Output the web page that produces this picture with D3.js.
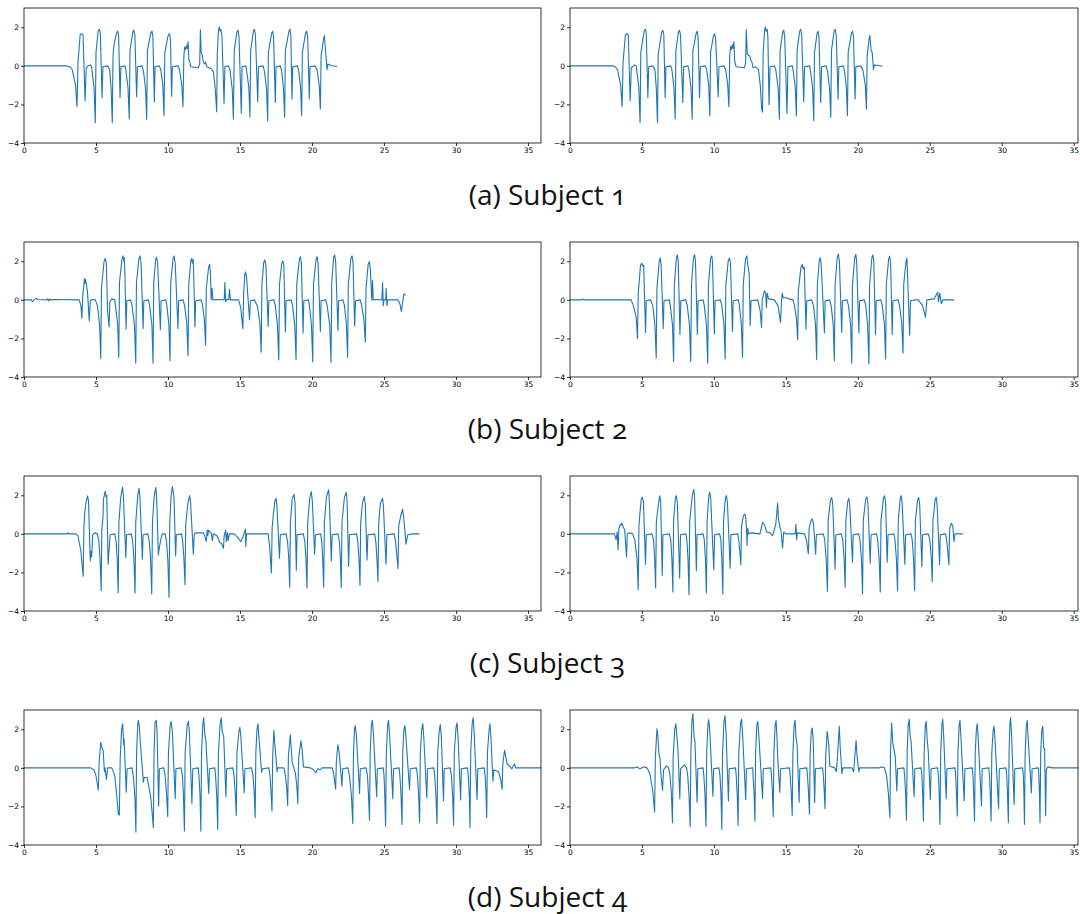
<!DOCTYPE html>
<html><head><meta charset="utf-8">
<script src="https://cdn.jsdelivr.net/npm/d3@7"></script>
<style>body{margin:0;background:#fff}</style></head>
<body><svg id="c" width="1080" height="914"></svg>
<script>
const xTicks = [0, 5, 10, 15, 20, 25, 30, 35];
const yTicks = [2, 0, -2, -4];
const captions = ["(a) Subject 1", "(b) Subject 2", "(c) Subject 3", "(d) Subject 4"];

const s1Left = [[0,0],[2.9,0],[3.2,-0.05],
[3.35,-0.2],[3.58,-1.0],[3.68,-2.12],[3.75,0.2],[3.9,1.6],[3.98,1.67],[4.1,1.6],[4.24,-1.81],[4.32,-0.1],[4.45,0.0],[4.6,0.05],
[4.68,0.0],[4.86,-1.1],[4.95,-2.95],[5.0,0.7],[5.15,1.8],[5.23,1.9],[5.3,1.7],[5.42,-1.65],[5.48,-0.05],[5.8,0.0],
[5.95,-0.2],[6.05,-1.2],[6.13,-2.95],[6.18,0.5],[6.25,1.1],[6.42,1.7],[6.5,1.8],[6.57,1.6],[6.67,-1.65],[6.73,-0.05],[7.0,0.0],
[7.05,-0.1],[7.22,-1.1],[7.31,-2.76],[7.36,0.8],[7.55,1.75],[7.62,1.85],[7.7,1.6],[7.82,-1.6],[7.88,-0.05],[8.2,0.0],
[8.3,-0.3],[8.44,-1.2],[8.52,-2.76],[8.57,0.8],[8.8,1.7],[8.89,1.8],[8.95,1.5],[9.05,-1.86],[9.1,-0.05],[9.4,0.0],
[9.5,-0.2],[9.64,-1.0],[9.72,-2.59],[9.78,0.7],[10.0,1.55],[10.1,1.67],[10.17,1.4],[10.25,-1.57],[10.3,-0.05],[10.7,0.0],
[10.8,-0.2],[10.96,-1.0],[11.04,-2.12],[11.1,0.5],[11.16,0.98],[11.22,0.85],[11.28,1.05],[11.33,0.9],[11.39,1.25],[11.45,0.3],[11.5,0.25],[11.58,-0.05],[12.1,-0.1],
[12.2,0.1],[12.25,1.88],[12.3,0.7],[12.38,0.55],[12.45,0.2],[12.55,0.1],[12.6,0.2],[12.7,-0.05],[13.0,-0.15],[13.15,-0.3],
[13.28,-1.2],[13.38,-2.38],[13.42,0.6],[13.5,1.8],[13.56,2.02],[13.62,1.8],[13.66,1.9],[13.75,1.5],[13.89,-1.95],[13.95,-0.05],[14.2,0.0],
[14.3,-0.2],[14.46,-1.2],[14.54,-2.76],[14.6,0.8],[14.78,1.75],[14.86,1.85],[14.93,1.5],[15.09,-2.47],[15.14,-0.05],[15.4,0.0],
[15.45,-0.2],[15.61,-1.1],[15.69,-2.64],[15.74,0.8],[15.93,1.8],[16.0,1.9],[16.07,1.6],[16.23,-1.86],[16.28,-0.05],[16.6,0.0],
[16.7,-0.3],[16.84,-1.2],[16.92,-2.84],[16.97,0.7],[17.2,1.7],[17.27,1.79],[17.33,1.5],[17.45,-1.9],[17.5,-0.05],[17.8,0.0],
[17.9,-0.3],[18.02,-1.2],[18.1,-2.67],[18.15,0.8],[18.4,1.8],[18.47,1.9],[18.53,1.6],[18.61,-1.72],[18.66,-0.05],[19.0,0.0],
[19.08,-0.3],[19.2,-1.1],[19.28,-2.59],[19.33,0.7],[19.55,1.7],[19.63,1.8],[19.7,1.5],[19.81,-1.72],[19.86,-0.05],[20.2,0.0],
[20.35,-0.2],[20.5,-1.0],[20.58,-2.24],[20.63,0.5],[20.8,1.4],[20.86,1.57],[20.94,0.8],[21.04,-0.2],[21.1,0.1],[21.3,0.02],[21.74,-0.03]];

const s1Right = [[0,0],[2.97,0],[3.15,-0.05],
[3.3,-0.2],[3.52,-1.0],[3.62,-2.12],[3.69,0.2],[3.85,1.6],[3.95,1.67],[4.05,1.6],[4.18,-1.81],[4.26,-0.1],[4.5,0.05],[4.6,0.0],
[4.78,-1.1],[4.87,-2.95],[4.92,0.7],[5.15,1.8],[5.24,1.9],[5.3,1.7],[5.41,-1.65],[5.47,-0.05],[5.75,0.0],
[5.9,-0.2],[6.0,-1.2],[6.08,-2.95],[6.13,0.6],[6.37,1.75],[6.45,1.85],[6.52,1.6],[6.61,-1.65],[6.67,-0.05],[7.0,0.0],
[7.08,-0.2],[7.22,-1.1],[7.31,-2.76],[7.36,0.8],[7.54,1.75],[7.61,1.85],[7.68,1.6],[7.84,-1.9],[7.9,-0.05],[8.2,0.0],
[8.28,-0.3],[8.41,-1.2],[8.49,-2.76],[8.54,0.8],[8.77,1.7],[8.84,1.8],[8.9,1.5],[9.0,-1.65],[9.06,-0.05],[9.4,0.0],
[9.5,-0.2],[9.64,-1.0],[9.72,-2.59],[9.77,0.7],[9.97,1.55],[10.05,1.67],[10.12,1.4],[10.3,-1.6],[10.35,-0.05],[10.7,0.0],
[10.82,-0.2],[10.96,-1.0],[11.04,-2.12],[11.1,0.5],[11.16,1.0],[11.22,0.85],[11.28,1.1],[11.33,0.9],[11.39,1.25],[11.45,0.2],[11.55,-0.05],[12.1,-0.1],
[12.2,0.1],[12.25,1.88],[12.32,0.6],[12.5,0.5],[12.55,0.3],[12.64,0.2],[12.72,-0.1],[12.9,-0.05],[13.1,-0.2],
[13.22,-1.0],[13.32,-2.24],[13.38,-2.4],[13.42,0.6],[13.52,1.8],[13.57,2.02],[13.63,1.8],[13.7,1.9],[13.75,1.5],[13.83,-2.0],[13.9,-0.05],[14.2,0.0],
[14.3,-0.2],[14.47,-1.2],[14.55,-2.76],[14.6,0.8],[14.78,1.75],[14.85,1.85],[14.92,1.5],[15.08,-2.47],[15.14,-0.05],[15.45,0.0],
[15.5,-0.2],[15.65,-1.1],[15.73,-2.6],[15.78,0.8],[15.96,1.8],[16.03,1.9],[16.1,1.6],[16.24,-1.86],[16.3,-0.05],[16.65,0.0],
[16.72,-0.3],[16.86,-1.2],[16.94,-2.84],[16.99,0.7],[17.17,1.7],[17.24,1.79],[17.3,1.5],[17.42,-1.9],[17.48,-0.05],[17.8,0.0],
[17.9,-0.3],[18.04,-1.2],[18.12,-2.67],[18.17,0.8],[18.35,1.8],[18.42,1.9],[18.5,1.6],[18.63,-1.72],[18.68,-0.05],[19.0,0.0],
[19.08,-0.3],[19.2,-1.1],[19.28,-2.59],[19.33,0.7],[19.56,1.7],[19.63,1.8],[19.7,1.5],[19.81,-1.72],[19.86,-0.05],[20.2,0.0],
[20.35,-0.2],[20.52,-1.0],[20.6,-2.24],[20.65,0.5],[20.78,1.4],[20.84,1.57],[20.92,0.8],[21.0,0.7],[21.09,-0.2],[21.15,0.05],[21.4,0.02],[21.72,-0.02]];

const s2Left = [[0,0],[0.5,0],[0.6,-0.1],[0.7,0.0],[0.83,0.08],[0.95,0.02],[1.6,0.0],[1.65,0.06],[1.72,-0.05],[1.8,0.05],[1.87,-0.02],[2.0,0.02],[3.83,0.0],
[3.95,-0.3],[4.02,-0.95],[4.08,0.2],[4.2,1.1],[4.23,0.85],[4.28,1.05],[4.33,0.8],[4.41,0.4],[4.53,-1.1],[4.6,-0.05],[4.75,0.02],[4.95,0.0],
[5.1,-0.3],[5.25,-1.3],[5.33,-3.05],[5.38,0.6],[5.56,2.0],[5.64,2.14],[5.72,1.9],[5.8,-0.55],[5.91,-1.41],[5.96,-0.1],[6.1,0.05],[6.3,0.0],
[6.5,-1.2],[6.58,-2.97],[6.63,0.9],[6.8,2.1],[6.88,2.28],[6.93,2.0],[6.96,2.2],[7.0,1.5],[7.09,-1.52],[7.14,-0.05],[7.4,0.0],
[7.5,-0.3],[7.67,-1.3],[7.76,-3.28],[7.81,0.9],[7.98,2.15],[8.06,2.28],[8.13,1.9],[8.27,-1.48],[8.32,-0.05],[8.65,0.0],
[8.72,-0.3],[8.88,-1.3],[8.96,-3.28],[9.01,0.9],[9.14,2.1],[9.21,2.2],[9.28,1.9],[9.47,-1.55],[9.52,-0.05],[9.85,0.0],
[9.92,-0.3],[10.06,-1.3],[10.14,-3.16],[10.19,0.9],[10.35,2.15],[10.42,2.28],[10.5,1.9],[10.69,-1.48],[10.74,-0.05],[11.05,0.0],
[11.15,-0.3],[11.3,-1.2],[11.39,-2.9],[11.44,0.8],[11.58,2.0],[11.64,2.14],[11.7,1.9],[11.74,2.1],[11.78,1.5],[11.87,-1.41],[11.92,-0.05],[12.3,0.0],
[12.4,-0.3],[12.52,-1.0],[12.61,-2.34],[12.66,0.6],[12.82,1.7],[12.89,1.84],[12.94,1.5],[13.0,0.0],[13.06,0.6],[13.12,0.0],[13.5,0.02],[13.9,0.0],[13.95,0.9],[14.0,-0.1],[14.1,0.05],[14.22,0.0],[14.27,0.55],[14.33,0.0],[14.9,0.0],
[15.05,-0.4],[15.2,-1.5],[15.25,0.3],[15.33,1.3],[15.38,1.45],[15.45,1.2],[15.66,-1.03],[15.72,-0.05],[16.0,0.0],
[16.2,-0.3],[16.38,-1.2],[16.47,-2.72],[16.52,0.8],[16.65,1.95],[16.72,2.07],[16.8,1.8],[16.95,-1.38],[17.0,-0.05],[17.35,0.0],
[17.45,-0.3],[17.6,-1.3],[17.69,-3.1],[17.74,0.8],[17.9,1.9],[17.97,2.02],[18.04,1.8],[18.15,-1.67],[18.2,-0.05],[18.55,0.0],
[18.65,-0.3],[18.8,-1.3],[18.89,-3.1],[18.94,0.8],[19.12,2.1],[19.19,2.24],[19.26,1.9],[19.38,-1.72],[19.43,-0.05],[19.75,0.0],
[19.82,-0.3],[19.96,-1.3],[20.05,-3.22],[20.1,0.8],[20.28,2.1],[20.35,2.24],[20.42,1.9],[20.58,-1.64],[20.63,-0.05],[20.95,0.0],
[21.05,-0.3],[21.23,-1.3],[21.32,-3.24],[21.37,0.9],[21.5,2.2],[21.57,2.33],[21.64,2.0],[21.8,-1.6],[21.85,-0.05],[22.15,0.0],
[22.25,-0.3],[22.38,-1.2],[22.47,-2.97],[22.52,0.8],[22.7,2.15],[22.78,2.28],[22.85,1.9],[22.96,-1.35],[23.02,-0.05],[23.35,0.0],
[23.45,-0.3],[23.6,-1.0],[23.7,-2.2],[23.75,0.6],[23.9,1.85],[23.98,1.98],[24.05,1.6],[24.15,0.0],[24.2,1.0],[24.25,0.0],[24.5,0.02],[24.85,0.0],[24.9,0.9],[24.95,-0.3],[25.0,0.0],[25.12,0.0],[25.15,0.6],[25.2,-0.3],[25.25,0.0],[25.96,0.0],[26.1,-0.2],[26.2,-0.6],[26.3,-0.1],[26.37,0.3],[26.5,0.25]];

const s2Right = [[0,0],[0.8,0.0],[0.88,0.05],[0.95,0.0],[4.25,0.0],
[4.4,-0.3],[4.6,-0.9],[4.69,-2.0],[4.74,0.3],[4.9,1.8],[4.99,1.9],[5.05,1.75],[5.12,1.8],[5.25,-1.69],[5.3,-0.05],[5.6,0.0],
[5.75,-0.3],[5.9,-1.3],[5.99,-3.03],[6.04,0.6],[6.2,2.0],[6.27,2.17],[6.33,1.85],[6.48,-1.48],[6.53,-0.05],[6.9,0.0],
[6.97,-0.3],[7.12,-1.3],[7.2,-3.2],[7.25,0.8],[7.4,2.2],[7.46,2.33],[7.52,2.0],[7.64,-1.79],[7.7,-0.05],[8.05,0.0],
[8.15,-0.3],[8.3,-1.3],[8.39,-3.19],[8.44,0.8],[8.58,2.2],[8.66,2.34],[8.72,2.0],[8.85,-1.79],[8.9,-0.05],[9.25,0.0],
[9.33,-0.3],[9.48,-1.3],[9.57,-3.28],[9.62,0.8],[9.77,2.15],[9.85,2.28],[9.9,2.0],[10.03,-1.76],[10.08,-0.05],[10.45,0.0],
[10.55,-0.3],[10.7,-1.3],[10.78,-3.07],[10.83,0.8],[11.0,2.05],[11.08,2.16],[11.15,1.9],[11.29,-1.64],[11.34,-0.05],[11.7,0.0],
[11.77,-0.3],[11.9,-1.2],[11.99,-2.97],[12.04,0.8],[12.2,2.15],[12.29,2.28],[12.36,1.8],[12.45,1.4],[12.52,-1.33],[12.58,-0.05],[13.05,0.0],
[13.22,-0.6],[13.31,-1.43],[13.36,0.0],[13.48,0.4],[13.54,0.47],[13.6,0.3],[13.65,-0.4],[13.7,0.35],[13.8,0.05],[14.2,0.0],[14.45,-0.3],[14.63,-1.17],[14.7,0.0],[14.75,0.35],[14.82,0.1],[15.0,0.12],[15.2,0.05],[15.5,0.0],
[15.6,-0.3],[15.74,-1.0],[15.82,-2.07],[15.87,0.5],[16.05,1.7],[16.14,1.84],[16.2,1.6],[16.28,1.7],[16.4,-1.52],[16.45,-0.05],[16.8,0.0],
[16.92,-0.3],[17.06,-1.3],[17.14,-3.1],[17.19,0.8],[17.32,2.05],[17.38,2.19],[17.45,1.9],[17.68,-1.72],[17.73,-0.05],[18.05,0.0],
[18.15,-0.3],[18.29,-1.3],[18.37,-3.16],[18.42,0.8],[18.58,2.25],[18.65,2.38],[18.72,2.0],[18.88,-1.69],[18.93,-0.05],[19.25,0.0],
[19.35,-0.3],[19.5,-1.3],[19.58,-3.28],[19.63,0.8],[19.79,2.2],[19.86,2.36],[19.92,2.0],[20.07,-1.72],[20.12,-0.05],[20.45,0.0],
[20.55,-0.3],[20.68,-1.3],[20.77,-3.31],[20.82,0.8],[20.98,2.2],[21.05,2.33],[21.11,2.0],[21.23,-1.81],[21.28,-0.05],[21.6,0.0],
[21.7,-0.3],[21.85,-1.3],[21.93,-3.07],[21.98,0.8],[22.14,2.1],[22.21,2.26],[22.28,1.9],[22.39,-1.79],[22.44,-0.05],[22.8,0.0],
[22.9,-0.3],[23.05,-1.2],[23.14,-2.76],[23.19,0.8],[23.35,2.0],[23.41,2.17],[23.47,1.0],[23.6,-1.83],[23.66,-0.05],[24.0,0.0],
[24.2,0.0],[24.5,-0.3],[24.7,-0.9],[24.8,0.0],[25.3,0.05],[25.55,0.4],[25.6,-0.1],[25.7,0.35],[25.8,-0.2],[25.9,0.0],[26.7,0.0]];

const s3Left = [[0,0],[3.0,0.0],[3.05,0.06],[3.1,0.0],[3.6,0.0],
[3.75,-0.1],[3.95,-0.9],[4.11,-2.2],[4.16,0.4],[4.22,1.1],[4.3,1.6],[4.41,1.97],[4.48,1.7],[4.6,-1.4],[4.65,-0.9],[4.7,-1.2],[4.77,-0.05],[4.9,0.05],[5.1,0.0],
[5.2,-0.4],[5.28,-1.3],[5.36,-2.95],[5.4,0.2],[5.48,0.8],[5.52,1.8],[5.64,2.22],[5.7,1.9],[5.75,2.0],[5.84,-1.57],[5.9,-0.9],[5.98,-0.05],[6.3,0.0],
[6.4,-0.4],[6.47,-1.3],[6.54,-3.07],[6.59,0.6],[6.72,1.9],[6.84,2.41],[6.9,2.0],[7.07,-1.22],[7.12,-0.05],[7.45,0.0],
[7.55,-0.4],[7.63,-1.3],[7.71,-3.07],[7.76,0.6],[7.9,2.0],[7.99,2.36],[8.05,1.9],[8.22,-1.31],[8.27,-0.05],[8.6,0.0],
[8.7,-0.4],[8.79,-1.3],[8.87,-3.12],[8.92,0.6],[9.05,2.0],[9.15,2.41],[9.21,1.9],[9.33,-1.09],[9.4,-0.7],[9.5,-0.3],[9.6,0.0],[9.8,0.0],
[9.9,-0.4],[9.99,-1.4],[10.07,-3.29],[10.12,0.6],[10.22,2.0],[10.3,2.45],[10.36,2.2],[10.42,1.8],[10.53,-1.14],[10.58,-0.05],[10.95,0.0],
[11.02,-0.4],[11.1,-1.2],[11.18,-2.64],[11.23,0.5],[11.38,1.6],[11.5,1.98],[11.56,1.7],[11.76,-1.05],[11.82,-0.05],[11.9,0.05],[12.45,0.05],
[12.55,-0.1],[12.66,-0.4],[12.72,0.2],[12.76,-0.1],[12.82,0.2],[12.92,0.1],[13.0,0.05],[13.08,-0.35],[13.15,0.0],[13.4,-0.1],[13.6,-0.45],[13.72,-0.5],[13.85,-0.75],[13.9,-0.1],[14.0,0.2],[14.05,-0.4],[14.12,0.05],[14.18,-0.35],[14.25,0.0],[14.6,0.0],[14.85,-0.2],[15.06,-0.4],[15.2,-0.15],[15.38,0.25],[15.4,-0.65],[15.45,0.0],[16.95,0.0],
[17.05,-0.6],[17.18,-2.03],[17.23,0.3],[17.3,0.9],[17.42,1.7],[17.5,1.84],[17.56,1.5],[17.74,-1.26],[17.8,-0.05],[18.2,0.0],
[18.3,-0.4],[18.38,-1.2],[18.45,-2.76],[18.5,0.6],[18.62,1.8],[18.75,2.05],[18.82,1.6],[18.91,-1.9],[18.96,-0.05],[19.4,0.0],
[19.5,-0.4],[19.58,-1.3],[19.65,-2.81],[19.7,0.6],[19.85,1.9],[19.95,2.19],[20.02,1.7],[20.18,-1.05],[20.24,-0.05],[20.6,0.0],
[20.68,-0.4],[20.74,-1.3],[20.81,-2.76],[20.86,0.6],[21.0,1.9],[21.15,2.28],[21.2,1.8],[21.34,-1.4],[21.4,-0.05],[21.8,0.0],
[21.9,-0.4],[21.97,-1.3],[22.03,-2.78],[22.08,0.6],[22.25,1.9],[22.38,2.16],[22.44,1.6],[22.54,-1.69],[22.6,-0.05],[23.1,0.0],
[23.18,-0.4],[23.26,-1.3],[23.33,-2.67],[23.38,0.6],[23.5,1.6],[23.63,1.93],[23.7,1.5],[23.82,-1.36],[23.88,-0.05],[24.35,0.0],
[24.43,-0.4],[24.5,-1.2],[24.58,-2.47],[24.63,0.5],[24.7,1.2],[24.75,1.6],[24.9,1.84],[24.96,1.4],[25.14,-1.57],[25.2,-0.05],[25.7,0.0],
[25.8,-0.4],[25.9,-1.2],[25.97,-1.81],[26.02,0.4],[26.15,0.9],[26.29,1.28],[26.37,0.8],[26.53,-0.53],[26.58,-0.3],[26.65,-0.05],[27.0,0.0],[27.45,0.0]];

const s3Right = [[0,0],[3.09,0.0],[3.2,-0.3],[3.28,0.1],[3.34,-0.84],[3.4,0.3],[3.5,0.5],[3.55,0.45],[3.6,0.55],[3.7,0.35],[3.8,0.2],[3.93,-1.2],[3.98,0.0],[4.1,0.05],[4.35,0.0],
[4.5,-0.3],[4.66,-1.3],[4.74,-2.9],[4.79,0.4],[4.84,0.9],[4.95,1.8],[5.02,1.9],[5.1,1.7],[5.25,-1.57],[5.3,-0.05],[5.7,0.0],
[5.8,-0.3],[5.88,-1.2],[5.95,-2.81],[6.0,0.6],[6.12,1.4],[6.23,1.97],[6.3,1.7],[6.41,-2.16],[6.46,-0.05],[6.9,0.0],
[7.0,-0.3],[7.08,-1.3],[7.15,-3.02],[7.2,0.7],[7.32,1.85],[7.39,1.98],[7.46,1.6],[7.62,-2.29],[7.68,-0.05],[8.05,0.0],
[8.12,-0.3],[8.2,-1.3],[8.27,-3.16],[8.32,0.7],[8.5,2.0],[8.6,2.31],[8.66,1.9],[8.78,-1.91],[8.83,-0.05],[9.25,0.0],
[9.33,-0.3],[9.41,-1.3],[9.48,-3.07],[9.53,0.7],[9.65,2.0],[9.71,2.16],[9.78,1.8],[9.99,-1.86],[10.05,-0.05],[10.4,0.0],
[10.48,-0.3],[10.55,-1.3],[10.62,-3.12],[10.67,0.7],[10.8,1.85],[10.87,1.98],[10.94,1.6],[11.13,-1.78],[11.18,-0.05],[11.65,0.0],
[11.72,-0.3],[11.8,-0.9],[11.87,-1.6],[11.92,0.4],[12.05,0.95],[12.15,1.02],[12.22,0.8],[12.28,0.0],[12.3,-0.6],[12.35,0.3],[12.4,0.0],[12.6,0.05],[13.2,0.0],[13.38,0.6],[13.48,0.5],[13.55,0.4],[13.65,0.1],[13.9,0.05],[14.08,-0.1],[14.3,0.5],[14.43,1.6],[14.48,0.8],[14.6,0.3],[14.65,0.25],[14.77,-0.75],[14.85,0.1],[15.0,0.0],[15.65,0.0],[15.7,0.5],[15.75,-0.3],[15.8,0.05],[16.3,0.0],
[16.45,-0.4],[16.56,-1.03],[16.62,0.3],[16.75,0.7],[16.84,0.78],[16.92,0.5],[17.07,-1.05],[17.12,-0.05],[17.6,0.0],
[17.7,-0.3],[17.8,-1.3],[17.89,-2.98],[17.94,0.7],[18.1,1.75],[18.19,1.88],[18.26,1.5],[18.42,-1.83],[18.47,-0.05],[18.85,0.0],
[18.95,-0.3],[19.04,-1.2],[19.12,-2.78],[19.17,0.7],[19.3,1.7],[19.37,1.84],[19.44,1.5],[19.63,-1.47],[19.68,-0.05],[20.05,0.0],
[20.15,-0.3],[20.25,-1.3],[20.33,-3.12],[20.38,0.7],[20.55,1.8],[20.63,1.93],[20.7,1.6],[20.86,-1.52],[20.92,-0.05],[21.3,0.0],
[21.38,-0.3],[21.48,-1.3],[21.56,-3.02],[21.61,0.7],[21.78,1.85],[21.86,1.97],[21.93,1.6],[22.04,-1.47],[22.1,-0.05],[22.5,0.0],
[22.58,-0.3],[22.68,-1.3],[22.76,-2.95],[22.81,0.7],[22.95,1.85],[23.02,1.98],[23.08,1.6],[23.27,-1.57],[23.32,-0.05],[23.7,0.0],
[23.78,-0.3],[23.87,-1.3],[23.95,-2.95],[24.0,0.7],[24.15,1.75],[24.23,1.88],[24.3,1.5],[24.45,-1.7],[24.5,-0.05],[24.9,0.0],
[25.0,-0.3],[25.1,-1.2],[25.17,-2.5],[25.22,0.7],[25.38,1.8],[25.45,1.9],[25.52,1.4],[25.68,-1.6],[25.73,-0.05],[26.1,0.0],
[26.2,-0.5],[26.33,-1.6],[26.38,0.3],[26.5,0.55],[26.6,0.4],[26.68,-0.4],[26.75,0.0],[27.3,0.0]];

const s4Left = [[0,0],[4.64,0.0],
[4.85,-0.1],[5.0,-0.4],[5.16,-1.16],[5.22,0.3],[5.33,1.33],[5.43,1.0],[5.5,0.9],[5.58,-0.2],[5.62,0.0],[5.73,-0.6],[5.8,0.0],[6.1,0.0],
[6.3,-0.4],[6.45,-1.5],[6.55,-2.41],[6.62,-2.45],[6.68,0.5],[6.78,2.0],[6.85,2.29],[6.92,1.2],[6.95,1.5],[7.1,-1.26],[7.16,-0.05],[7.5,0.0],
[7.6,-0.5],[7.7,-1.5],[7.77,-3.33],[7.82,0.8],[7.9,2.3],[7.94,2.47],[8.0,2.2],[8.05,1.6],[8.29,-0.74],[8.35,-0.5],[8.55,-0.5],[8.8,-1.5],[8.93,-2.64],[8.98,-3.1],[9.03,0.8],[9.1,2.35],[9.18,2.47],[9.24,1.9],[9.35,-1.98],[9.4,-0.05],[9.7,0.0],
[9.8,-0.4],[9.9,-1.4],[9.98,-2.53],[10.03,0.8],[10.15,2.2],[10.22,2.41],[10.3,1.9],[10.5,-1.6],[10.55,-0.05],[10.9,0.0],
[11.0,-0.4],[11.07,-1.4],[11.14,-3.28],[11.19,0.8],[11.33,2.2],[11.41,2.41],[11.48,1.9],[11.66,-1.84],[11.72,-0.05],[12.1,0.0],
[12.15,-0.4],[12.22,-1.4],[12.28,-3.28],[12.33,0.8],[12.42,2.3],[12.48,2.59],[12.55,1.8],[12.63,1.4],[12.83,-1.33],[12.88,-0.05],[13.25,0.0],
[13.3,-0.4],[13.38,-1.4],[13.45,-3.19],[13.5,0.8],[13.62,2.3],[13.7,2.59],[13.76,1.9],[13.87,1.6],[14.02,-1.5],[14.07,-0.05],[14.5,0.0],
[14.58,-0.4],[14.66,-1.2],[14.74,-2.47],[14.79,0.8],[14.92,1.9],[14.99,2.1],[15.06,1.6],[15.29,-1.29],[15.34,-0.05],[15.8,0.0],
[15.9,-0.4],[15.98,-1.2],[16.05,-2.59],[16.1,0.8],[16.18,2.0],[16.25,2.29],[16.32,1.5],[16.5,-0.22],[16.56,-0.05],[17.0,0.0],
[17.08,-0.4],[17.15,-1.2],[17.22,-2.24],[17.27,0.6],[17.35,1.95],[17.42,1.2],[17.5,0.5],[17.57,-0.2],[17.62,0.0],[18.05,0.0],
[18.15,-0.4],[18.24,-1.0],[18.31,-1.95],[18.36,0.6],[18.49,1.72],[18.56,1.0],[18.62,0.3],[18.7,0.1],[18.85,-0.3],[18.95,-1.0],[19.01,-1.84],[19.07,0.5],[19.23,1.4],[19.32,0.9],[19.4,0.05],[19.9,0.0],[20.1,-0.1],[20.27,-0.25],[20.4,-0.05],[20.55,-0.1],[20.7,0.0],[21.4,0.0],
[21.5,-0.3],[21.64,-1.1],[21.69,0.3],[21.79,1.2],[21.87,0.9],[22.08,-0.95],[22.13,-0.05],[22.5,0.0],
[22.6,-0.4],[22.73,-1.4],[22.83,-2.88],[22.88,0.8],[22.95,2.0],[23.0,2.19],[23.08,1.7],[23.3,-1.33],[23.35,-0.05],[23.75,0.0],
[23.85,-0.4],[23.92,-1.4],[23.99,-2.71],[24.04,0.8],[24.12,2.2],[24.19,2.47],[24.26,1.8],[24.49,-1.5],[24.54,-0.05],[24.95,0.0],
[25.0,-0.4],[25.05,-1.4],[25.11,-3.02],[25.16,0.8],[25.25,2.2],[25.31,2.47],[25.38,1.8],[25.61,-1.6],[25.66,-0.05],[26.05,0.0],
[26.1,-0.4],[26.18,-1.4],[26.25,-2.93],[26.3,0.8],[26.38,2.0],[26.45,2.19],[26.52,1.6],[26.77,-1.12],[26.82,-0.05],[27.25,0.0],
[27.32,-0.4],[27.4,-1.4],[27.47,-2.84],[27.52,0.8],[27.62,2.0],[27.69,2.29],[27.76,1.6],[27.97,-1.55],[28.02,-0.05],[28.45,0.0],
[28.52,-0.4],[28.6,-1.4],[28.68,-2.88],[28.73,0.8],[28.84,2.0],[28.91,2.24],[28.98,1.6],[29.13,-1.72],[29.18,-0.05],[29.6,0.0],
[29.68,-0.4],[29.76,-1.4],[29.83,-2.97],[29.88,0.8],[30.0,2.1],[30.07,2.33],[30.14,1.6],[30.32,-1.67],[30.37,-0.05],[30.8,0.0],
[30.85,-0.4],[30.92,-1.4],[30.97,-3.1],[31.02,0.8],[31.12,2.3],[31.19,2.59],[31.26,1.8],[31.46,-1.64],[31.51,-0.05],[31.95,0.0],
[32.02,-0.4],[32.08,-1.3],[32.13,-2.59],[32.18,0.8],[32.3,2.0],[32.36,2.29],[32.43,1.5],[32.56,-0.69],[32.62,-0.1],[32.95,-0.2],[33.1,-0.6],[33.2,-1.12],[33.25,0.2],[33.37,0.91],[33.45,0.6],[33.55,0.2],[33.7,0.1],[33.88,-0.05],[34.05,0.2],[34.15,0.0],[35.9,0.0]];

const s4Right = [[0,0],[4.5,0.0],[4.68,0.05],[4.85,-0.05],[5.0,0.0],[5.12,0.05],[5.35,0.0],
[5.55,-0.3],[5.75,-1.2],[5.88,-2.29],[5.93,0.5],[6.04,2.02],[6.1,1.7],[6.18,0.7],[6.25,0.55],[6.33,-0.45],[6.43,-1.17],[6.5,-0.1],[6.71,0.1],[6.85,0.0],
[6.95,-0.4],[7.05,-1.4],[7.12,-2.84],[7.17,0.6],[7.28,2.0],[7.36,2.29],[7.44,1.5],[7.5,1.0],[7.63,-1.6],[7.68,-0.05],[7.96,0.15],[8.1,0.0],
[8.18,-0.4],[8.27,-1.4],[8.35,-3.05],[8.4,0.8],[8.48,2.5],[8.54,2.81],[8.62,1.6],[8.68,1.4],[8.83,-1.78],[8.88,-0.05],[9.25,0.0],
[9.3,-0.4],[9.38,-1.4],[9.45,-3.05],[9.5,0.8],[9.58,2.2],[9.64,2.5],[9.72,1.8],[9.93,-1.47],[9.98,-0.05],[10.35,0.0],
[10.42,-0.4],[10.49,-1.4],[10.55,-3.19],[10.6,0.8],[10.7,2.4],[10.77,2.71],[10.84,1.9],[11.01,-1.72],[11.06,-0.05],[11.5,0.0],
[11.55,-0.4],[11.62,-1.4],[11.68,-2.98],[11.73,0.8],[11.85,2.3],[11.92,2.53],[11.99,1.8],[12.21,-1.64],[12.26,-0.05],[12.7,0.0],
[12.72,-0.4],[12.79,-1.3],[12.85,-2.76],[12.9,0.8],[12.98,2.2],[13.05,2.41],[13.12,1.7],[13.38,-1.6],[13.43,-0.05],[13.95,0.0],
[14.0,-0.4],[14.06,-1.2],[14.12,-2.53],[14.17,0.8],[14.25,2.2],[14.32,2.45],[14.38,1.6],[14.44,0.4],[14.58,-1.26],[14.63,-0.05],[15.25,0.0],
[15.3,-0.4],[15.37,-1.2],[15.44,-2.47],[15.49,0.8],[15.57,2.2],[15.64,2.47],[15.7,1.6],[15.78,1.2],[15.92,-1.78],[15.97,-0.05],[16.45,0.0],
[16.5,-0.4],[16.57,-1.2],[16.64,-2.41],[16.69,0.8],[16.77,1.9],[16.83,2.07],[16.9,1.5],[17.0,-1.81],[17.05,-0.05],[17.55,0.0],
[17.6,-0.4],[17.66,-1.1],[17.72,-2.12],[17.77,0.6],[17.87,1.9],[17.93,1.5],[17.98,1.2],[18.05,0.1],[18.2,0.05],[18.4,0.0],[18.51,-0.2],[18.58,0.5],[18.71,2.16],[18.78,1.0],[18.9,-0.3],[18.96,0.0],[19.6,0.0],[19.71,-0.2],[19.78,0.5],[19.88,1.41],[19.95,0.6],[20.07,-0.2],[20.12,0.0],[21.5,0.0],[21.65,0.05],[21.85,0.0],
[22.0,-0.4],[22.12,-1.3],[22.23,-2.59],[22.27,0.8],[22.35,2.33],[22.43,1.3],[22.55,0.8],[22.6,0.6],[22.71,-1.2],[22.76,-0.05],[23.2,0.0],
[23.25,-0.4],[23.32,-1.3],[23.38,-2.71],[23.43,0.8],[23.5,2.2],[23.57,2.53],[23.64,1.6],[23.7,1.4],[23.91,-1.5],[23.96,-0.05],[24.4,0.0],
[24.45,-0.4],[24.5,-1.3],[24.56,-2.76],[24.61,0.8],[24.69,2.2],[24.75,2.41],[24.82,1.5],[24.9,0.8],[25.04,-1.64],[25.09,-0.05],[25.55,0.0],
[25.6,-0.4],[25.65,-1.3],[25.71,-2.93],[25.76,0.8],[25.84,2.2],[25.9,2.53],[25.97,1.6],[26.14,-1.6],[26.19,-0.05],[26.75,0.0],
[26.8,-0.4],[26.85,-1.2],[26.91,-2.5],[26.96,0.8],[27.04,2.2],[27.1,2.47],[27.17,1.5],[27.39,-1.72],[27.44,-0.05],[27.95,0.0],
[28.0,-0.4],[28.05,-1.3],[28.11,-2.76],[28.16,0.8],[28.24,2.0],[28.3,2.29],[28.37,1.5],[28.59,-1.98],[28.64,-0.05],[29.1,0.0],
[29.15,-0.4],[29.2,-1.3],[29.26,-2.76],[29.31,0.8],[29.4,1.9],[29.47,2.16],[29.54,1.4],[29.78,-2.1],[29.83,-0.05],[30.3,0.0],
[30.35,-0.4],[30.4,-1.3],[30.46,-2.84],[30.51,0.8],[30.57,2.3],[30.62,2.59],[30.69,1.6],[30.86,-1.9],[30.91,-0.05],[31.45,0.0],
[31.5,-0.4],[31.54,-1.3],[31.58,-2.93],[31.63,0.8],[31.71,2.2],[31.77,2.47],[31.84,1.5],[32.06,-1.29],[32.11,-0.05],[32.55,0.0],
[32.58,-0.4],[32.62,-1.3],[32.66,-2.84],[32.71,0.8],[32.79,2.0],[32.85,2.16],[32.92,1.0],[32.98,1.0],[33.0,0.0],[33.05,-2.47],[33.1,-0.1],[33.2,0.05],[33.5,0.0],[35.3,0.0]];

const rows = [[s1Left, s1Right], [s2Left, s2Right], [s3Left, s3Right], [s4Left, s4Right]];

const svg = d3.select("#c");
const cols = [{x0: 24, x1: 541, xmax: 35.9}, {x0: 570, x1: 1078, xmax: 35.3}];
const rowTop = i => 8 + i * 234;
const H = 135;

rows.forEach((pair, ri) => {
  const top = rowTop(ri);
  pair.forEach((series, ci) => {
    const c = cols[ci];
    const x = d3.scaleLinear().domain([0, c.xmax]).range([c.x0, c.x1]);
    const y = d3.scaleLinear().domain([-4, 3]).range([top + H, top]);
    const g = svg.append("g");
    const id = `clip${ri}${ci}`;
    g.append("clipPath").attr("id", id).append("rect")
      .attr("x", c.x0).attr("y", top).attr("width", c.x1 - c.x0).attr("height", H);
    g.append("path").datum(series)
      .attr("clip-path", `url(#${id})`)
      .attr("fill", "none").attr("stroke", "#1f77b4").attr("stroke-width", 1.1)
      .attr("stroke-linejoin", "round")
      .attr("d", d3.line().x(d => x(d[0])).y(d => y(d[1])));
    const xa = g.append("g").attr("transform", `translate(0,${top + H})`)
      .call(d3.axisBottom(x).tickValues(xTicks).tickSize(3).tickPadding(2).tickFormat(d3.format("d")));
    const ya = g.append("g").attr("transform", `translate(${c.x0},0)`)
      .call(d3.axisLeft(y).tickValues(yTicks).tickSize(3).tickPadding(2).tickFormat(d3.format("d")));
    [xa, ya].forEach(a => {
      a.select(".domain").remove();
      a.selectAll("line").attr("stroke", "#000").attr("stroke-width", 0.8);
      a.selectAll("text").attr("font-family", "DejaVu Sans").attr("font-size", 7.5).attr("fill", "#000");
    });
    g.append("rect").attr("x", c.x0).attr("y", top).attr("width", c.x1 - c.x0).attr("height", H)
      .attr("fill", "none").attr("stroke", "#000").attr("stroke-width", 0.8);
  });
  svg.append("text").attr("x", 547.5).attr("y", top + 197)
    .attr("text-anchor", "middle").attr("font-family", "Open Sans").attr("font-size", 28)
    .style("font-feature-settings", "'onum' 1").style("font-variant-numeric", "oldstyle-nums")
    .attr("fill", "#111").text(captions[ri]);
});
</script>
</body></html>
